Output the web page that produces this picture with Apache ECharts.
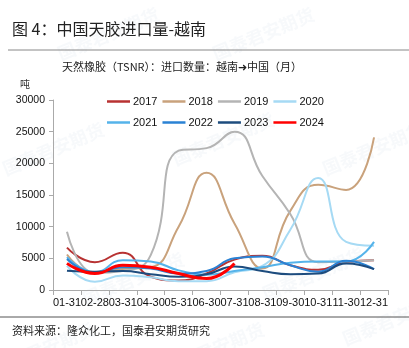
<!DOCTYPE html>
<html><head><meta charset="utf-8">
<script src="https://cdn.jsdelivr.net/npm/echarts@6/dist/echarts.min.js"></script>
<style>html,body{margin:0;padding:0;background:#fff}#c{width:409px;height:348px}</style>
</head><body><div id="c"></div>
<script>
const categories = ['01-31','02-28','03-31','04-30','05-31','06-30','07-31','08-31','09-30','10-31','11-30','12-31'];
const yTicks = [0, 5000, 10000, 15000, 20000, 25000, 30000];
const s2017 = [6700, 4400, 5900, 2100, 1500, 2600, 4800, 5400, 3900, 3200, 4400, 4700];
const s2018 = [5600, 2700, 3300, 3600, 10000, 18500, 10500, 3400, 12500, 16600, 15800, 24100];
const s2019 = [9200, 2700, 3000, 5500, 22000, 22400, 25000, 18000, 12000, 4400, 4500, 4700];
const s2020 = [3800, 1300, 2300, 2000, 1400, 1400, 2800, 3800, 9500, 17700, 7600, 7000];
const s2021 = [5200, 2800, 4700, 4500, 3100, 2400, 3000, 3600, 4300, 4500, 4500, 7600];
const s2022 = [4900, 2700, 3600, 3400, 2600, 3000, 5000, 5300, 3900, 2900, 4600, 3300];
const s2023 = [3050, 2900, 3000, 2500, 2100, 2500, 3700, 3000, 2500, 2600, 4200, 3300];
const s2024 = [4200, 2600, 3900, 3600, 2600, 1800, 4200];
const seriesNames = ['2017','2018','2019','2020','2021','2022','2023','2024'];
const seriesData = [s2017, s2018, s2019, s2020, s2021, s2022, s2023, s2024];
const colors = ['#b83232','#c9a27c','#b4b4b4','#a6daf4','#55b3ea','#2a82d4','#1d4c7e','#ff0000'];
const widths = [2, 2, 2, 2, 2, 2, 2, 3];

const chart = echarts.init(document.getElementById('c'), null, {renderer:'canvas'});
const wm = [];
const wmPos = [[95,15],[250,15],[40,130],[210,120],[360,130],[120,260],[300,255],[30,330],[200,330],[380,300]];
wmPos.forEach(p => {
  wm.push({type:'text', left:p[0]-40, top:p[1]-10, rotation: Math.PI/8, silent:true, z:0,
    style:{text:'国泰君安期货', fill:'rgba(200,210,225,0.14)', font:'bold 18px "Noto Sans CJK SC"'}});
});
const legendCommon = {icon:'rect', itemWidth:23, itemHeight:2.5, itemGap:5,
  textStyle:{fontSize:11, color:'#111', fontFamily:'Liberation Sans', padding:[0,0,0,-2]}};
chart.setOption({
  animation:false,
  color: colors,
  graphic: wm.concat([
    {type:'text', left:12, top:21, style:{text:'图 4：中国天胶进口量-越南', fill:'#222', font:'16px "Noto Sans CJK SC"'}},
    {type:'line', shape:{x1:8,y1:50,x2:409,y2:50}, style:{stroke:'#888', lineWidth:1}},
    {type:'text', left:62, top:61, style:{text:'天然橡胶（TSNR）：进口数量：越南➜中国（月）', fill:'#222', font:'11px "Noto Sans CJK SC"'}},
    {type:'text', left:20, top:79, style:{text:'吨', fill:'#333', font:'10px "Noto Sans CJK SC"'}},
    {type:'line', shape:{x1:0,y1:317,x2:409,y2:317}, style:{stroke:'#555', lineWidth:1}},
    {type:'text', left:12, top:325, style:{text:'资料来源：隆众化工，国泰君安期货研究', fill:'#222', font:'11px "Noto Sans CJK SC"'}}
  ]),
  legend: [
    Object.assign({data: seriesNames.slice(0,4), left:102, top:91}, legendCommon),
    Object.assign({data: seriesNames.slice(4), left:102, top:112}, legendCommon)
  ],
  grid: {left:53, right:21, top:100, bottom:58},
  xAxis: {
    type:'category', data:categories, boundaryGap:true,
    axisLine:{lineStyle:{color:'#aaa'}},
    axisTick:{show:true, length:5, lineStyle:{color:'#aaa'}},
    axisLabel:{interval:0, fontSize:11, color:'#111', margin:7, fontFamily:'Liberation Sans'}
  },
  yAxis: {
    type:'value', min:yTicks[0], max:yTicks[yTicks.length-1], interval:5000,
    axisLine:{show:true, lineStyle:{color:'#aaa'}},
    axisTick:{show:true, length:4, lineStyle:{color:'#aaa'}},
    splitLine:{show:false},
    axisLabel:{fontSize:10.5, color:'#111', margin:8, fontFamily:'Liberation Sans', formatter: v => String(v)}
  },
  series: seriesNames.map((n,i) => ({
    name:n, type:'line', data:seriesData[i], smooth:true, symbol:'none', showSymbol:false,
    lineStyle:{width:widths[i], color:colors[i]}, itemStyle:{color:colors[i]}, z: 2 + (i===7?5:0)
  }))
});
</script></body></html>
